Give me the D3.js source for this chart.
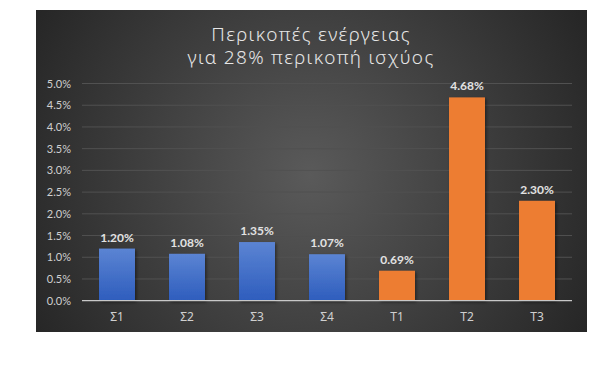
<!DOCTYPE html>
<html><head><meta charset="utf-8">
<script src="https://cdn.jsdelivr.net/npm/d3@7"></script>
<style>html,body{margin:0;padding:0;background:#fff;}svg{display:block;}</style>
</head><body>
<svg id="c" width="612" height="368"></svg>
<script>
const categories = ["Σ1","Σ2","Σ3","Σ4","Τ1","Τ2","Τ3"];
const values = [1.20, 1.08, 1.35, 1.07, 0.69, 4.68, 2.30];
const groups = ["S","S","S","S","T","T","T"];
const yTicks = [0,0.5,1,1.5,2,2.5,3,3.5,4,4.5,5];
const titleLines = ["Περικοπές ενέργειας","για 28% περικοπή ισχύος"];

const svg = d3.select("#c");
const defs = svg.append("defs");
const rg = defs.append("radialGradient").attr("id","bg")
  .attr("gradientUnits","userSpaceOnUse").attr("cx",310).attr("cy",175).attr("r",330);
rg.append("stop").attr("offset","0").attr("stop-color","#5a5a5a");
rg.append("stop").attr("offset","1").attr("stop-color","#242424");
const bg = defs.append("linearGradient").attr("id","blue").attr("x1",0).attr("y1",0).attr("x2",0).attr("y2",1);
bg.append("stop").attr("offset","0").attr("stop-color","#5b84d3");
bg.append("stop").attr("offset","1").attr("stop-color","#2e5dbd");
const f = defs.append("filter").attr("id","sh").attr("x","-20%").attr("y","-20%").attr("width","150%").attr("height","150%");
f.append("feDropShadow").attr("dx",1.5).attr("dy",1.5).attr("stdDeviation",1.5).attr("flood-color","#000").attr("flood-opacity",0.45);

svg.append("rect").attr("x",36).attr("y",10).attr("width",551).attr("height",322).attr("fill","url(#bg)");

const x = d3.scaleBand().domain(categories).range([82,572]).paddingInner(0.486).paddingOuter(0.243);
const y = d3.scaleLinear().domain([0,5]).range([300.7,83.5]);

// gridlines
svg.append("g").selectAll("line").data(yTicks.filter(d=>d>0)).join("line")
  .attr("x1",82).attr("x2",572).attr("y1",d=>y(d)).attr("y2",d=>y(d))
  .attr("stroke","#515151").attr("stroke-width",1);

// y axis
const yAxis = d3.axisLeft(y).tickValues(yTicks).tickFormat(d=>d3.format(".1f")(d)+"%").tickSize(0).tickPadding(11);
const ya = svg.append("g").attr("transform","translate(82,0)").call(yAxis);
ya.select(".domain").remove();
ya.selectAll("text").attr("fill","#d0d0d0").style("font-family","Lato, 'Noto Sans', sans-serif").style("font-size","11px");

// bars
svg.append("g").selectAll("rect").data(categories).join("rect")
  .attr("x",d=>x(d)).attr("width",x.bandwidth())
  .attr("y",(d,i)=>y(values[i])).attr("height",(d,i)=>y(0)-y(values[i]))
  .attr("fill",(d,i)=>groups[i]==="S"?"url(#blue)":"#ed7d31")
  .attr("filter","url(#sh)");

// baseline axis
const xAxis = d3.axisBottom(x).tickSize(0).tickPadding(12);
const xa = svg.append("g").attr("transform",`translate(0,${y(0)})`).call(xAxis);
xa.select(".domain").attr("stroke","#c8c8c8").attr("stroke-width",1.2).attr("d","M82,0H572");
xa.selectAll("text").attr("fill","#d0d0d0").style("font-family","'Noto Sans', sans-serif").style("font-size","12px");

// data labels
svg.append("g").selectAll("text").data(categories).join("text")
  .attr("x",d=>x(d)+x.bandwidth()/2).attr("y",(d,i)=>y(values[i])-7)
  .attr("text-anchor","middle").attr("fill","#e2e2e2")
  .style("font-family","Lato, 'Noto Sans', sans-serif").style("font-size","12px").style("font-weight","bold")
  .text((d,i)=>d3.format(".2f")(values[i])+"%");

// title
svg.append("g").selectAll("text").data(titleLines).join("text")
  .attr("x",311).attr("y",(d,i)=>40.5+i*23.5).attr("text-anchor","middle")
  .attr("fill","#e6e6e6").style("font-family","'Noto Sans', sans-serif").style("font-weight","300")
  .style("font-size","19px").style("letter-spacing","1.3px")
  .text(d=>d);
</script>
</body></html>
